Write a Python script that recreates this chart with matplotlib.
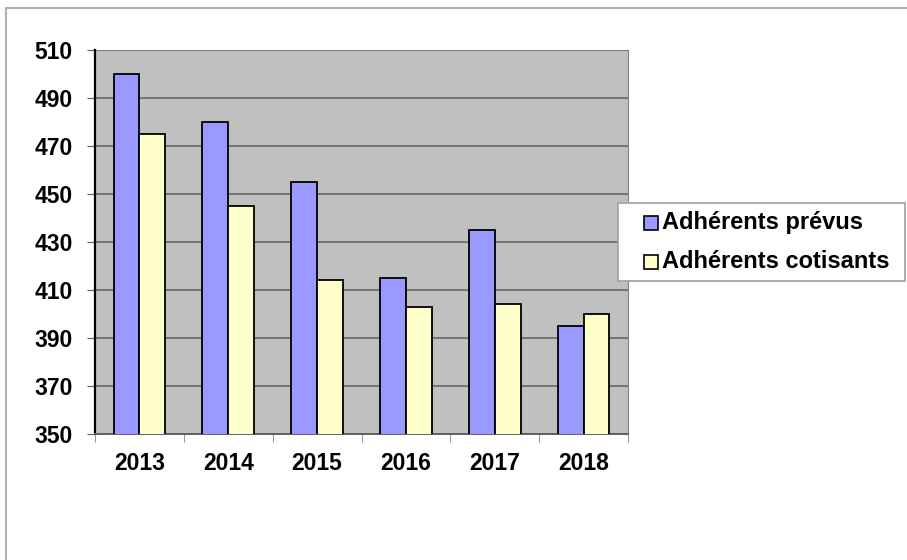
import numpy as np
import matplotlib.pyplot as plt
from matplotlib.patches import Rectangle
from matplotlib.lines import Line2D

# data
years = ['2013', '2014', '2015', '2016', '2017', '2018']
prevus = [500, 480, 455, 415, 435, 395]
cotisants = [475, 445, 414, 403, 404, 400]
labels = ['Adhérents prévus', 'Adhérents cotisants']
colors = ['#9999ff', '#ffffcc']

plt.rcParams['font.family'] = ['Liberation Sans', 'DejaVu Sans']

W, H = 907, 560
fig = plt.figure(figsize=(W / 100, H / 100), dpi=100)
ax = fig.add_axes([95 / W, 1 - 434 / H, 533 / W, 384 / H])

x = np.arange(len(years))
w = 0.29
ax.bar(x - w/2, prevus, w, color=colors[0], edgecolor='black', linewidth=1.3, zorder=3)
ax.bar(x + w/2, cotisants, w, color=colors[1], edgecolor='black', linewidth=1.3, zorder=3)

ax.set_facecolor('#c0c0c0')
ax.set_ylim(350, 510)
ax.set_yticks(range(350, 511, 20))
ax.set_xlim(-0.5, len(years) - 0.5)
ax.yaxis.grid(True, color='#606060', linewidth=1.1, zorder=1)

ax.set_xticks(x)
ax.set_xticklabels(years, fontsize=16.5, fontweight='bold')
ax.tick_params(axis='x', length=0, pad=13)
ax.set_xticks(np.arange(-0.5, len(years)), minor=True)
ax.tick_params(axis='x', which='minor', length=6, color='#808080', direction='out')
ax.tick_params(axis='y', length=6, color='#606060', direction='out', pad=10)
for lab in ax.get_yticklabels():
    lab.set_fontsize(16.5)
    lab.set_fontweight('bold')

ax.spines['top'].set_visible(False)
ax.spines['right'].set_color('#808080')
ax.spines['left'].set_color('black')
ax.spines['left'].set_linewidth(1.6)
ax.spines['bottom'].set_color('#606060')
ax.spines['bottom'].set_linewidth(1.4)

# legend box drawn in figure pixels
fig.patches.append(Rectangle((618 / W, 1 - 281 / H), 287 / W, 78 / H,
                             transform=fig.transFigure, facecolor='white',
                             edgecolor='#a0a0a0', linewidth=1.2, zorder=5))
for i, (lab, col) in enumerate(zip(labels, colors)):
    yc = 1 - (223 + 39 * i) / H
    fig.patches.append(Rectangle((644 / W, yc - 7 / H), 14 / W, 14 / H,
                                 transform=fig.transFigure, facecolor=col,
                                 edgecolor='black', linewidth=1.2, zorder=6))
    fig.text(662 / W, yc, lab, fontsize=17, fontweight='bold',
             va='center', ha='left', zorder=7)

# outer frame (top and left only visible)
fig.add_artist(Line2D([6 / W, 6 / W], [0, 1 - 8 / H], transform=fig.transFigure,
                      color='#b0b0b0', linewidth=1.5))
fig.add_artist(Line2D([6 / W, 1], [1 - 8 / H, 1 - 8 / H], transform=fig.transFigure,
                      color='#b0b0b0', linewidth=1.5))

fig.savefig('out.png', dpi=100)
